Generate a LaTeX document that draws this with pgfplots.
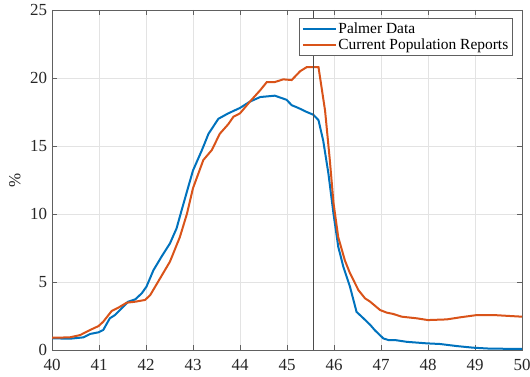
\documentclass[border=0pt]{standalone}
\usepackage{fontspec}
\setmainfont{Liberation Serif}
\usepackage{pgfplots}
\pgfplotsset{compat=1.18}
\definecolor{mblue}{rgb}{0,0.447,0.741}
\definecolor{morange}{rgb}{0.85,0.325,0.098}
\definecolor{axgray}{rgb}{0.15,0.15,0.15}
\begin{document}
\begin{tikzpicture}
\path[use as bounding box] (0,0) rectangle (530bp,377bp);
\begin{axis}[
  at={(52bp,27bp)}, anchor=south west,
  scale only axis, width=470bp, height=340bp,
  xmin=40, xmax=50, ymin=0, ymax=25,
  xtick={40,41,...,50}, ytick={0,5,...,25},
  grid=major, major grid style={gray!22, line width=0.5bp},
  axis line style={gray!75!black, line width=0.6bp},
  tick style={gray!75!black, line width=0.6bp},
  tick align=inside, major tick length=5bp,
  ticklabel style={font=\fontsize{17}{20}\selectfont, text=axgray},
  xticklabel style={yshift=-6bp},
  yticklabel style={xshift=-1.3bp},
  /pgf/number format/assume math mode=true,
  ylabel={\%},
  ylabel style={font=\fontsize{17}{20}\selectfont, text=axgray, at={(axis description cs:-0.079,0.5)}, anchor=center},
  legend style={at={(0.981,0.976)}, anchor=north east, draw=gray!75!black, line width=0.6bp, fill=white,
    font=\fontsize{15.5}{17}\selectfont, inner xsep=3bp, inner ysep=2.5bp, row sep=1.5bp,
    nodes={inner xsep=1.5bp, inner ysep=1.5bp}, cells={anchor=west}},
  legend image code/.code={\draw[#1, line width=2bp] (0bp,0bp) -- (33bp,0bp);},
  legend cell align=left,
]
\addplot[mblue, line width=2bp] coordinates {
(40.00,0.86) (40.38,0.83) (40.67,0.93) (40.81,1.18) (40.99,1.30) (41.09,1.47)
(41.23,2.33) (41.34,2.57) (41.48,3.06) (41.62,3.55) (41.77,3.72) (41.91,4.17)
(42.01,4.66) (42.16,5.88) (42.33,6.86) (42.51,7.84) (42.65,8.94) (42.76,10.3)
(42.90,12.0) (43.00,13.2) (43.19,14.7) (43.33,15.9) (43.54,17.0) (43.75,17.4)
(44.00,17.8) (44.21,18.26) (44.43,18.6) (44.74,18.7) (44.99,18.4) (45.10,18.0)
(45.24,17.8) (45.42,17.5) (45.56,17.3) (45.67,16.9) (45.77,15.4) (45.88,13.0)
(45.99,10.0) (46.09,7.6) (46.20,6.1) (46.34,4.65) (46.48,2.8) (46.59,2.45)
(46.77,1.85) (46.87,1.45) (47.05,0.85) (47.16,0.73) (47.30,0.73) (47.55,0.60)
(47.97,0.49) (48.26,0.44) (48.61,0.29) (48.96,0.17) (49.32,0.10) (50.00,0.08)
};
\addlegendentry{Palmer Data}
\addplot[morange, line width=2bp] coordinates {
(40.00,0.90) (40.38,0.93) (40.60,1.10) (40.81,1.47) (40.99,1.76) (41.09,2.08)
(41.27,2.87) (41.41,3.11) (41.59,3.48) (41.77,3.55) (41.98,3.68) (42.09,4.04)
(42.30,5.27) (42.51,6.5) (42.72,8.3) (42.87,10.0) (43.00,11.9) (43.22,13.97)
(43.40,14.7) (43.57,15.9) (43.75,16.6) (43.86,17.15) (44.00,17.4) (44.21,18.26)
(44.43,19.1) (44.57,19.7) (44.74,19.7) (44.92,19.9) (45.10,19.85) (45.28,20.5)
(45.42,20.8) (45.67,20.8) (45.81,17.6) (45.91,14.0) (45.99,10.8) (46.09,8.3)
(46.23,6.6) (46.34,5.65) (46.52,4.4) (46.66,3.8) (46.77,3.55) (46.98,2.94)
(47.12,2.75) (47.26,2.65) (47.44,2.45) (47.76,2.33) (48.00,2.20) (48.40,2.25)
(48.68,2.40) (49.04,2.57) (49.40,2.57) (49.74,2.50) (50.00,2.45)
};
\addlegendentry{Current Population Reports}
\addplot[gray!60!black, line width=0.8bp, forget plot] coordinates {(45.57,0) (45.57,25)};
\end{axis}
\end{tikzpicture}
\end{document}
